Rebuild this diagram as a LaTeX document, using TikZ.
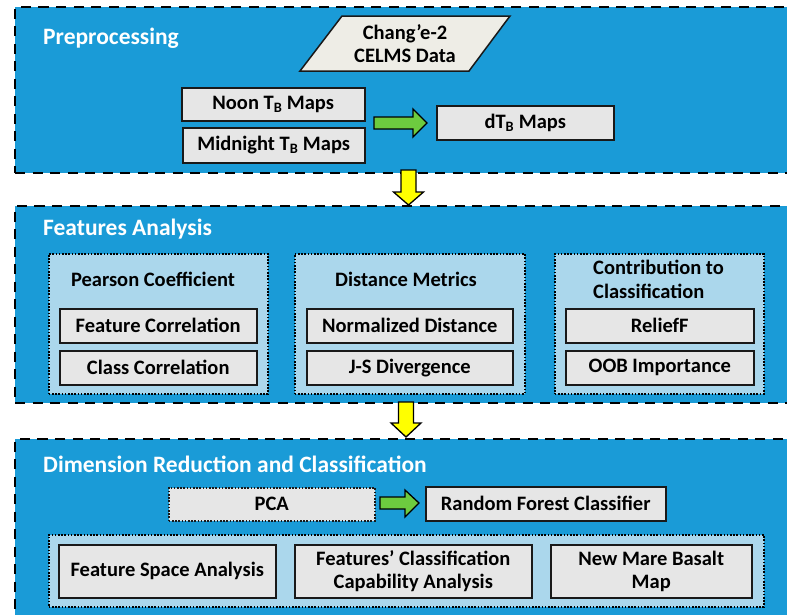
\documentclass[tikz,border=0pt]{standalone}
\usepackage{fontspec}
\setmainfont{Carlito}
\definecolor{secblue}{HTML}{1A9BD7}
\definecolor{lightblue}{HTML}{ABD7EC}
\definecolor{boxgray}{HTML}{E6E6E6}
\definecolor{datagray}{HTML}{EEEDE6}
\definecolor{arrgreen}{HTML}{6DCB3F}
\definecolor{arryellow}{HTML}{FFFF00}
\begin{document}
\begin{tikzpicture}[x=1pt,y=-1pt,
  section/.style={draw=black, fill=secblue, line width=2pt, dash pattern=on 10pt off 7.5pt, anchor=north west, inner sep=0pt},
  group/.style={draw=black, fill=lightblue, line width=1.6pt, dash pattern=on 1.6pt off 1.6pt, anchor=north west, inner sep=0pt},
  gbox/.style={draw=black!90, fill=boxgray, line width=1.5pt, anchor=north west, inner sep=0pt, align=center, font=\bfseries\fontsize{20.5}{23.5}\selectfont},
  dbox/.style={gbox, dash pattern=on 1.6pt off 1.6pt, line width=1.6pt},
  title/.style={text=white, font=\bfseries\fontsize{23.5}{27}\selectfont, anchor=west, inner sep=0pt},
  label/.style={font=\bfseries\fontsize{20.5}{23.5}\selectfont, inner sep=0pt, text=black},
  garrow/.style={draw=black, fill=arrgreen, line width=1.3pt, line join=miter},
  yarrow/.style={draw=black, fill=arryellow, line width=1.3pt, line join=miter}
]
\useasboundingbox (0,0) rectangle (787,614);
\clip (0,0) rectangle (787,614);
% sections
\node[section, minimum width=800, minimum height=166] (s1) at (14,6) {};
\node[section, minimum width=800, minimum height=197] (s2) at (14,205) {};
\node[section, minimum width=800, minimum height=200] (s3) at (14,438) {};
\node[title] (t1) at (43,38) {Preprocessing};
\node[title] (t2) at (43,229) {Features Analysis};
\node[title] (t3) at (43,464) {Dimension Reduction and Classification};
% preprocessing
\coordinate (dA) at (300,71);
\coordinate (dB) at (469,71);
\coordinate (dC) at (510,16);
\coordinate (dD) at (342,16);
\draw[draw=black!90, fill=datagray, line width=1.5pt] (dA) -- (dB) -- (dC) -- (dD) -- cycle;
\node[label, align=center] (data) at (405,43.5) {Chang’e-2\\CELMS Data};
\node[gbox, minimum width=183, minimum height=33] (noon) at (181,87) {Noon T\textsubscript{B} Maps};
\node[gbox, minimum width=182, minimum height=35] (mid) at (182,127) {Midnight T\textsubscript{B} Maps};
\node[gbox, minimum width=177, minimum height=34] (dtb) at (436,105) {dT\textsubscript{B} Maps};
\draw[garrow] (374,117) -- (413,117) -- (413,109) -- (427,123) -- (413,137) -- (413,129) -- (374,129) -- cycle;
% yellow arrow 1
\draw[yarrow] (401,170) -- (416,170) -- (416,192) -- (423.5,192) -- (408.5,205) -- (393.5,192) -- (401,192) -- cycle;
% features analysis
\node[group, minimum width=219, minimum height=140] (ga) at (48,253) {};
\node[group, minimum width=230, minimum height=140] (gb) at (294,253) {};
\node[group, minimum width=209, minimum height=140] (gc) at (554,253) {};
\node[label] (pc) at (153,279) {Pearson Coefficient};
\node[label] (dm) at (406,279) {Distance Metrics};
\node[label, anchor=west, align=left] (cc) at (593,279.5) {Contribution to\\Classification};
\node[gbox, minimum width=197, minimum height=34] (fc) at (59,308) {Feature Correlation};
\node[gbox, minimum width=197, minimum height=34] (clc) at (59,350) {Class Correlation};
\node[gbox, minimum width=206, minimum height=34] (nd) at (306,308) {Normalized Distance};
\node[gbox, minimum width=206, minimum height=34] (js) at (306,350) {J-S Divergence};
\node[gbox, minimum width=188, minimum height=34] (rf) at (565,308) {ReliefF};
\node[gbox, minimum width=188, minimum height=34] (oob) at (565,350) {OOB Importance};
% yellow arrow 2
\draw[yarrow] (398.5,402) -- (413.5,402) -- (413.5,423) -- (421,423) -- (406,437) -- (391,423) -- (398.5,423) -- cycle;
% dimension reduction
\node[dbox, minimum width=206, minimum height=33] (pca) at (168,487) {PCA};
\node[gbox, minimum width=240, minimum height=34] (rfc) at (425,486) {Random Forest Classifier};
\draw[garrow] (380,497) -- (405,497) -- (405,490) -- (419,503) -- (405,517) -- (405,509) -- (380,509) -- cycle;
\node[group, minimum width=715, minimum height=72] (gd) at (48,534) {};
\node[gbox, minimum width=217, minimum height=53] (fsa) at (58,544) {Feature Space Analysis};
\node[gbox, minimum width=237, minimum height=53] (fcca) at (294,544) {Features’ Classification\\Capability Analysis};
\node[gbox, minimum width=201, minimum height=53] (nmb) at (550,544) {New Mare Basalt\\Map};
\end{tikzpicture}
\end{document}
